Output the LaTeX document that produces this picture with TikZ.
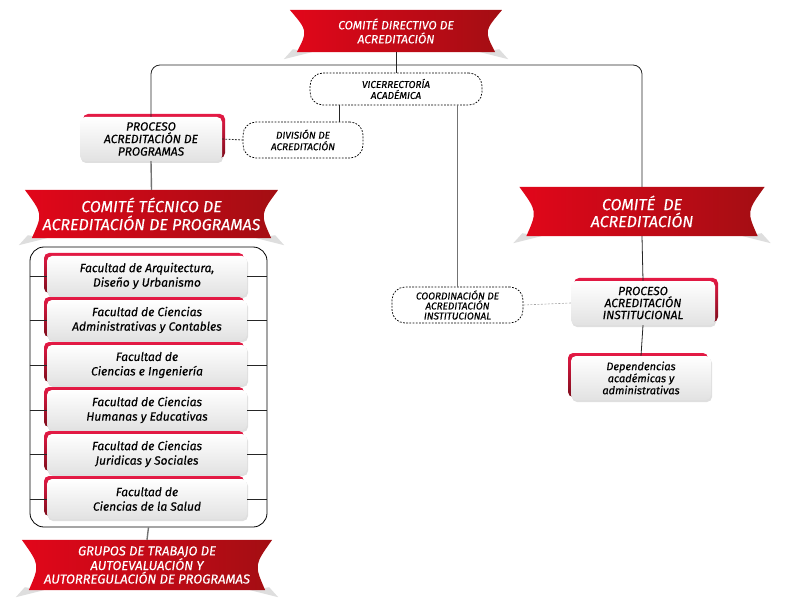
\documentclass[tikz,border=0pt]{standalone}
\usepackage{fontspec}
\setsansfont{Fira Sans}[FakeBold=0.4]
\usetikzlibrary{
	backgrounds,
	calc,
	shadows,
}

\definecolor{rojoA}{HTML}{E2061A}
\definecolor{rojoB}{HTML}{A30E13}
\definecolor{acentoA}{HTML}{E51A45}
\definecolor{acentoB}{HTML}{7E0D1C}
\definecolor{grisclaro}{HTML}{E2E2E2}

\begin{document}
\begin{tikzpicture}[x=1pt, y=-1pt,
	every node/.style={align=center, inner sep=0pt},
	cinta/.style={text=white},
	caja/.style={rounded corners=5pt, top color=white, bottom color=grisclaro,
			drop shadow={shadow xshift=1pt, shadow yshift=-2pt, opacity=.25}},
	acentoizq/.style={general shadow={top color=acentoA, bottom color=acentoB, shadow xshift=-3pt, shadow yshift=3pt}},
	acentoder/.style={general shadow={top color=acentoA, bottom color=acentoB, shadow xshift=3pt, shadow yshift=3pt}},
	punteada/.style={draw, rounded corners=13pt, line width=0.7pt, dash pattern=on 1.8pt off 1.4pt},
	linea/.style={draw, black!85, line width=0.8pt},
	lineagris/.style={draw, black!55, line width=1.4pt},
	]

	\useasboundingbox (0,0) rectangle (792,612);

	% cintas rojas
	\node[cinta, minimum width=212pt, minimum height=42pt, font=\sffamily\itshape\fontsize{12}{14}\selectfont] (directivo) at (396,31) {COMITÉ DIRECTIVO DE\\ACREDITACIÓN};
	\node[cinta, minimum width=253pt, minimum height=48pt, font=\sffamily\itshape\fontsize{16}{18}\selectfont] (tecnico) at (151.5,214) {COMITÉ TÉCNICO DE\\ACREDITACIÓN DE PROGRAMAS};
	\node[cinta, minimum width=250pt, minimum height=50pt, font=\sffamily\itshape\fontsize{13}{13.5}\selectfont] (grupos) at (147,565) {GRUPOS DE TRABAJO DE\\AUTOEVALUACIÓN Y\\AUTORREGULACIÓN DE PROGRAMAS};
	\node[cinta, minimum width=245pt, minimum height=49pt, font=\sffamily\itshape\fontsize{16}{17}\selectfont] (comite) at (642,211.5) {COMITÉ~ DE\\ACREDITACIÓN};

	% cajas punteadas
	\node[punteada, minimum width=172pt, minimum height=32pt, font=\sffamily\itshape\fontsize{10}{11}\selectfont] (vice) at (396,89) {VICERRECTORÍA\\ACADÉMICA};
	\node[punteada, minimum width=120pt, minimum height=36pt, font=\sffamily\itshape\fontsize{10}{11.5}\selectfont] (division) at (303,140) {DIVISIÓN DE\\ACREDITACIÓN};
	\node[punteada, minimum width=131pt, minimum height=36pt, font=\sffamily\itshape\fontsize{10}{10}\selectfont] (coord) at (457.5,305) {COORDINACIÓN DE\\ACREDITACIÓN\\INSTITUCIONAL};

	% cajas blancas
	\node[caja, acentoder, minimum width=142pt, minimum height=44pt, font=\sffamily\itshape\fontsize{12}{12.5}\selectfont] (procprog) at (151,139) {PROCESO\\ACREDITACIÓN DE\\PROGRAMAS};
	\node[caja, acentoder, minimum width=144pt, minimum height=44pt, font=\sffamily\itshape\fontsize{12}{12}\selectfont] (procinst) at (643,303) {PROCESO\\ACREDITACIÓN\\INSTITUCIONAL};
	\node[caja, acentoizq, minimum width=140pt, minimum height=44pt, font=\sffamily\itshape\fontsize{11}{12}\selectfont] (depend) at (641,378) {Dependencias\\académicas y\\administrativas};

	% marco de las facultades
	\node[draw, rounded corners=14pt, line width=0.8pt, minimum width=237pt, minimum height=280pt] (marco) at (148.5,387) {};
	\foreach \i/\y/\t in {
			1/276/{Facultad de Arquitectura,\\Diseño y Urbanismo},
			2/320/{Facultad de Ciencias\\Administrativas y Contables},
			3/365/{Facultad de\\Ciencias e Ingeniería},
			4/410/{Facultad de Ciencias\\Humanas y Educativas},
			5/454/{Facultad de Ciencias\\Juridicas y Sociales},
			6/499/{Facultad de\\Ciencias de la Salud}} {
			\node[caja, acentoizq, minimum width=200pt, minimum height=40pt, font=\sffamily\itshape\fontsize{12}{14.5}\selectfont] (fac\i) at (147,\y) {\t};
			\draw[linea] (fac\i.west -| marco.west) -- (fac\i.west);
			\draw[linea] (fac\i.east) -- (fac\i.east -| marco.east);
		}

	% conectores
	\coordinate (cruce) at (396,65);
	\draw[linea, rounded corners=9pt] (procprog.north) |- (cruce) -| (comite.north);
	\draw[linea] (directivo.south) -- (vice.north);
	\draw[linea] ([xshift=-57pt]vice.south) -- ([xshift=-57pt]vice.south |- division.north);
	\draw[lineagris] (coord.north |- vice.south) -- (coord.north);
	\draw[linea, dash pattern=on 1.8pt off 1.4pt] (procprog.east) -- (division.west);
	\draw[lineagris] (procprog.south) -- (tecnico.north);
	\draw[lineagris] (marco.south) -- (grupos.north);
	\draw[linea] (comite.south) -- (procinst.north);
	\draw[black!35, line width=0.6pt, dash pattern=on 2pt off 1.5pt] (coord.east) -- (procinst.west);
	\draw[linea] (procinst.south) -- (depend.north);

	% forma de las cintas
	\begin{scope}[on background layer]
		\foreach \nombre in {directivo,tecnico,grupos,comite} {
				\fill[black!13] ($(\nombre.south west)+(3,-3)$) -- ($(\nombre.south west)+(22,0)$) -- ($(\nombre.south west)+(-6,7)$) -- cycle;
				\fill[black!13] ($(\nombre.south east)+(-3,-3)$) -- ($(\nombre.south east)+(-22,0)$) -- ($(\nombre.south east)+(6,7)$) -- cycle;
				\shade[left color=rojoA, right color=rojoB] (\nombre.north west) .. controls ($(\nombre.west)+(18,0)$) .. ($(\nombre.south west)+(7,0)$) -- ($(\nombre.south east)+(-7,0)$) .. controls ($(\nombre.east)+(-18,0)$) .. (\nombre.north east) -- cycle;
			}
	\end{scope}

\end{tikzpicture}
\end{document}
